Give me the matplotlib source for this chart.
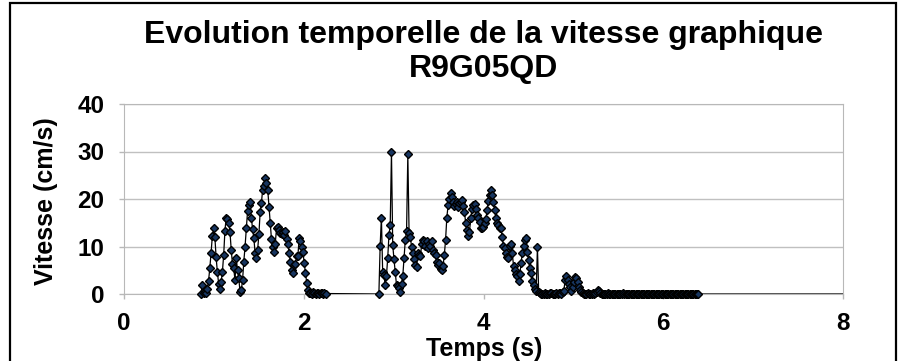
import numpy as np
import matplotlib
matplotlib.use('Agg')
import matplotlib.pyplot as plt
from matplotlib.patches import Rectangle

plt.rcParams['font.family'] = ['Liberation Sans', 'DejaVu Sans']

# sampling step (s) and start time of each recorded segment
dt = 0.014
t0_seg1 = 0.857
t0_seg2 = 2.836

# speed values (cm/s)
v_seg1 = [0.0, 1.9, 0.3, 0.5, 0.3, 1.1, 2.8, 5.5, 8.7, 12.2,
          13.8, 12.0, 7.7, 4.6, 2.2, 1.1, 2.5, 4.7, 8.2, 13.3,
          16.1, 15.7, 15.0, 13.1, 9.3, 6.3, 5.4, 2.9, 7.5, 5.1,
          3.3, 0.5, 0.8, 2.9, 6.8, 10.0, 13.8, 17.5, 18.7, 19.4,
          16.1, 13.6, 11.7, 8.6, 7.5, 9.3, 12.6, 17.3, 19.2, 22.0,
          22.7, 24.4, 23.3, 22.0, 18.4, 14.9, 11.5, 10.0, 8.9, 10.6,
          13.8, 14.2, 13.5, 12.8, 12.6, 13.1, 12.4, 13.3, 11.5, 10.6,
          8.7, 6.7, 5.1, 4.4, 6.2, 6.4, 7.9, 8.1, 11.7, 11.2,
          9.8, 8.8, 6.5, 4.4, 2.4, 0.8, 0.3, 0.2, 0.1, 0.4,
          0.2, 0.1, 0.3, 0.2, 0.1, 0.2, 0.3, 0.1, 0.2, 0.1]

v_seg2 = [0.0, 10.1, 16.1, 4.7, 4.0, 1.9, 3.8, 7.5, 12.4, 14.5,
          29.8, 10.3, 7.3, 4.7, 1.9, 1.6, 1.3, 0.5, 2.1, 3.8,
          7.5, 11.4, 13.3, 29.4, 12.8, 12.1, 9.8, 8.7, 7.3, 6.1,
          5.7, 8.6, 8.2, 7.9, 10.5, 11.4, 11.1, 10.1, 11.1, 9.7,
          10.5, 10.1, 11.1, 9.3, 8.6, 8.2, 6.8, 6.1,
          6.5, 5.2, 5.1, 5.9, 8.2, 11.4, 16.1, 18.7, 19.9, 21.3,
          20.5, 19.4, 18.5, 18.9, 19.4, 18.4, 19.1, 19.4, 19.8, 18.5,
          17.3, 14.9, 13.5, 12.2, 13.1, 15.9, 18.0, 18.7, 18.9, 18.0,
          16.6, 16.1, 15.2, 14.0, 13.8, 14.2, 14.9, 15.7, 17.7, 19.6,
          20.8, 21.9, 20.8, 19.4, 17.7, 16.1, 15.0, 14.5, 14.0, 13.8,
          11.9, 10.1, 9.6, 8.6, 7.7, 7.5, 10.1, 10.5, 8.7, 5.9,
          5.1, 4.2, 3.8, 2.8, 4.2, 6.5, 8.7, 10.1, 11.4, 11.7,
          8.9, 7.2, 5.4, 4.4, 2.8, 1.8, 1.0, 0.6, 9.8, 0.5,
          0.2, 0.1, 0.0, 0.1, 0.2, 0.1, 0.0, 0.1, 0.3, 0.2,
          0.1, 0.0, 0.1, 0.2, 0.1, 0.3, 0.2, 0.1, 0.4, 0.7,
          2.9, 3.8, 2.9, 2.2, 1.5, 0.7, 1.5, 2.5, 3.5, 3.4,
          2.5, 1.5, 0.8, 0.4, 0.2, 0.1, 0.0, 0.1, 0.2, 0.1,
          0.0, 0.1, 0.2, 0.1, 0.3, 0.5, 0.9, 0.6, 0.3, 0.1,
          0.0, 0.1, 0.0, 0.1, 0.2, 0.1, 0.0, 0.1, 0.0, 0.1,
          0.1, 0.0, 0.1, 0.0, 0.0, 0.1, 0.2, 0.1, 0.0, 0.1,
          0.0, 0.1, 0.0, 0.0, 0.1, 0.0, 0.1, 0.0, 0.1, 0.0,
          0.1, 0.0, 0.1, 0.1, 0.0, 0.0, 0.1, 0.0, 0.1, 0.0,
          0.0, 0.1, 0.0, 0.1, 0.0, 0.1, 0.0, 0.0, 0.1, 0.0,
          0.1, 0.0, 0.0, 0.1, 0.0, 0.1, 0.0, 0.1, 0.0, 0.1,
          0.0, 0.1, 0.0, 0.0, 0.1, 0.0, 0.1, 0.0, 0.0, 0.1,
          0.0, 0.0, 0.1, 0.0, 0.1, 0.0, 0.0]

# last row of the sheet (line only, no marker)
t_end = 8.0
v_end = 0.0

x_ticks = [0, 2, 4, 6, 8]
y_ticks = [0, 10, 20, 30, 40]

t1 = t0_seg1 + dt * np.arange(len(v_seg1))
t2 = t0_seg2 + dt * np.arange(len(v_seg2))
t_pts = np.concatenate([t1, t2])
v_pts = np.concatenate([v_seg1, v_seg2])

fig = plt.figure(figsize=(9.07, 3.61), dpi=100)
ax = fig.add_axes([124/907, 1-294/361, 719/907, 190/361])

ax.plot(np.append(t_pts, t_end), np.append(v_pts, v_end), color='black', lw=0.9, zorder=3)
ax.plot(t_pts, v_pts, ls='none', marker='D', ms=4.5, mfc='#173560', mec='black',
        mew=1.0, zorder=4, clip_on=False)

ax.set_xlim(0, 8)
ax.set_ylim(0, 40)
ax.set_xticks(x_ticks)
ax.set_yticks(y_ticks)
ax.set_axisbelow(True)
ax.grid(axis='y', color='#c0c0c0', lw=1)
for s in ax.spines.values():
    s.set_color('#b8b8b8')
ax.tick_params(colors='#b8b8b8', labelcolor='black', length=3.5, width=1, labelsize=17.5)
ax.tick_params(axis='y', pad=10.5)
ax.tick_params(axis='x', pad=9.5)
for lab in ax.get_xticklabels() + ax.get_yticklabels():
    lab.set_fontweight('bold')

# two title lines
fig.text(484/907, 1-43/361, 'Evolution temporelle de la vitesse graphique',
         ha='center', va='baseline', fontsize=23, fontweight='bold')
fig.text(484/907, 1-77/361, 'R9G05QD',
         ha='center', va='baseline', fontsize=23, fontweight='bold')
fig.text(46/907, 1-201/361, 'Vitesse (cm/s)', rotation=90, ha='center', va='center',
         fontsize=18, fontweight='bold')
fig.text(484/907, 1-349/361, 'Temps (s)', ha='center', va='center',
         fontsize=18, fontweight='bold')

fig.patches.append(Rectangle((10/907, -0.1), 886/907, 1.1 - 3/361, transform=fig.transFigure,
                             fill=False, ec='black', lw=1.6))

fig.savefig('out.png', dpi=100)
